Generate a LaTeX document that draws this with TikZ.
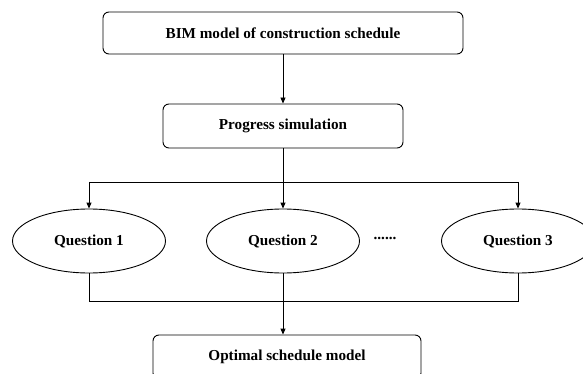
\documentclass[tikz,border=0pt]{standalone}
\usepackage{fontspec}
\setmainfont{Liberation Serif}
\usetikzlibrary{shapes.geometric,arrows.meta}
\begin{document}
\begin{tikzpicture}[x=1pt,y=-1pt,
  txt/.style={font=\fontsize{15.2}{18}\selectfont\bfseries},
  box/.style={txt,draw,rounded corners=6pt,line width=0.9pt,inner sep=0pt},
  oval/.style={txt,draw,ellipse,line width=0.9pt,inner sep=0pt,minimum width=153pt,minimum height=64pt},
  conn/.style={line width=0.9pt},
  arr/.style={conn,-{Triangle[length=6pt,width=5pt]}}]
\useasboundingbox (0,0) rectangle (583,374);
\node[box,minimum width=360pt,minimum height=42pt] (bim) at (283,33) {BIM model of construction schedule};
\node[box,minimum width=240pt,minimum height=44pt] (prog) at (283,126) {Progress simulation};
\node[oval] (q1) at (89,241) {Question 1};
\node[oval] (q2) at (283,241) {Question 2};
\node[oval] (q3) at (518,241) {Question 3};
\node[txt] (dots) at (385,238) {......};
\node[box,minimum width=268pt,minimum height=44pt] (opt) at (287,357) {Optimal schedule model};
\coordinate (tl) at (89,182);
\coordinate (tr) at (518,182);
\coordinate (bl) at (89,301);
\coordinate (br) at (518,301);
\draw[arr] (bim) -- (prog);
\draw[conn] (prog.south) -- (prog.south |- tl);
\draw[conn] (tl) -- (tr);
\draw[arr] (tl) -- (q1.north);
\draw[arr] (prog.south |- tl) -- (q2.north);
\draw[arr] (tr) -- (q3.north);
\draw[conn] (q1.south) -- (bl) -- (br) -- (q3.south);
\draw[arr] (q2.south) -- (q2.south |- opt.north);
\end{tikzpicture}
\end{document}
